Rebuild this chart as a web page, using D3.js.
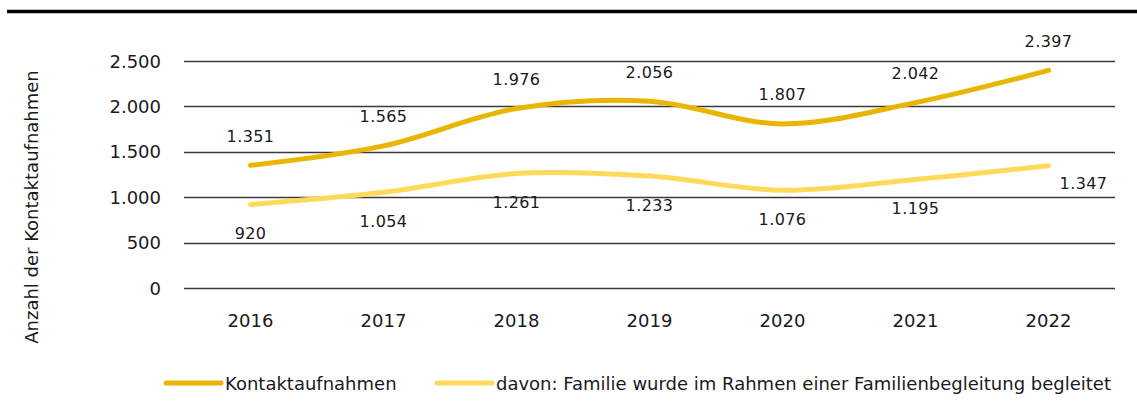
<!DOCTYPE html>
<html>
<head>
<meta charset="utf-8">
<script src="https://cdn.jsdelivr.net/npm/d3@7"></script>
<style>
  body { margin: 0; background: #fff; }
  svg { display: block; font-family: "DejaVu Sans", sans-serif; }
</style>
</head>
<body>
<svg width="1137" height="406"></svg>
<script>
// data
var years = ["2016", "2017", "2018", "2019", "2020", "2021", "2022"];
var kontakt = [1351, 1565, 1976, 2056, 1807, 2042, 2397];
var familie = [920, 1054, 1261, 1233, 1076, 1195, 1347];
var yTicks = [0, 500, 1000, 1500, 2000, 2500];
var seriesNames = ["Kontaktaufnahmen", "davon: Familie wurde im Rahmen einer Familienbegleitung begleitet"];

var DARK = "#e8b500";
var LIGHT = "#ffd95a";

var svg = d3.select("svg");

// top rule
svg.append("line")
  .attr("x1", 7).attr("x2", 1137)
  .attr("y1", 11.5).attr("y2", 11.5)
  .style("stroke", "#000")
  .style("stroke-width", "3.5px");

var x = d3.scalePoint().domain(years).range([184, 1115]).padding(0.5);
var y = d3.scaleLinear().domain([0, 2500]).range([288, 61]);

// gridlines
svg.append("g").selectAll("line")
  .data(yTicks)
  .enter().append("line")
  .attr("x1", 184).attr("x2", 1115)
  .attr("y1", function(d){ return Math.round(y(d)) + 0.5; })
  .attr("y2", function(d){ return Math.round(y(d)) + 0.5; })
  .style("stroke", "#3a3a3a")
  .style("stroke-width", "1.3px");

function fmt(v){ return d3.format(",")(v).replace(/,/g, "."); }

// y tick labels
svg.append("g").selectAll("text")
  .data(yTicks)
  .enter().append("text")
  .attr("x", 161)
  .attr("y", function(d){ return y(d); })
  .attr("text-anchor", "end")
  .attr("dominant-baseline", "central")
  .style("font-size", "18px")
  .style("fill", "#1a1a1a")
  .text(fmt);

// x tick labels
svg.append("g").selectAll("text")
  .data(years)
  .enter().append("text")
  .attr("x", function(d){ return x(d); })
  .attr("y", 320)
  .attr("text-anchor", "middle")
  .attr("dominant-baseline", "central")
  .style("font-size", "18px")
  .style("fill", "#1a1a1a")
  .text(function(d){ return d; });

// axis title
svg.append("text")
  .attr("transform", "translate(31,207) rotate(-90)")
  .attr("text-anchor", "middle")
  .attr("dominant-baseline", "central")
  .style("font-size", "18px")
  .style("fill", "#1a1a1a")
  .text("Anzahl der Kontaktaufnahmen");

var line = d3.line()
  .x(function(d, i){ return x(years[i]); })
  .y(function(d){ return y(d); })
  .curve(d3.curveCatmullRom);

// lighter series first
svg.append("path")
  .datum(familie)
  .attr("d", line)
  .style("fill", "none")
  .style("stroke", LIGHT)
  .style("stroke-width", "5px")
  .style("stroke-linecap", "round");

svg.append("path")
  .datum(kontakt)
  .attr("d", line)
  .style("fill", "none")
  .style("stroke", DARK)
  .style("stroke-width", "5px")
  .style("stroke-linecap", "round");

// data labels
svg.append("g").selectAll("text")
  .data(kontakt)
  .enter().append("text")
  .attr("x", function(d, i){ return x(years[i]); })
  .attr("y", function(d){ return y(d) - 29; })
  .attr("text-anchor", "middle")
  .attr("dominant-baseline", "central")
  .style("font-size", "16px")
  .style("letter-spacing", "0.4px")
  .style("fill", "#1a1a1a")
  .text(fmt);

svg.append("g").selectAll("text")
  .data(familie)
  .enter().append("text")
  .attr("x", function(d, i){ return i === familie.length - 1 ? x(years[i]) + 35 : x(years[i]); })
  .attr("y", function(d, i){ return i === familie.length - 1 ? y(d) + 18 : y(d) + 29; })
  .attr("text-anchor", "middle")
  .attr("dominant-baseline", "central")
  .style("font-size", "16px")
  .style("letter-spacing", "0.4px")
  .style("fill", "#1a1a1a")
  .text(fmt);

// legend
var legendX = [166, 437];
var colors = [DARK, LIGHT];
var legend = svg.append("g").selectAll("g")
  .data(seriesNames)
  .enter().append("g")
  .attr("transform", function(d, i){ return "translate(" + legendX[i] + ",383)"; });

legend.append("line")
  .attr("x1", 0).attr("x2", 55)
  .attr("y1", 0).attr("y2", 0)
  .style("stroke", function(d, i){ return colors[i]; })
  .style("stroke-width", "5px")
  .style("stroke-linecap", "round");

legend.append("text")
  .attr("x", 59)
  .attr("y", 0)
  .attr("dominant-baseline", "central")
  .style("font-size", "18px")
  .style("fill", "#1a1a1a")
  .text(function(d){ return d; });
</script>
</body>
</html>
